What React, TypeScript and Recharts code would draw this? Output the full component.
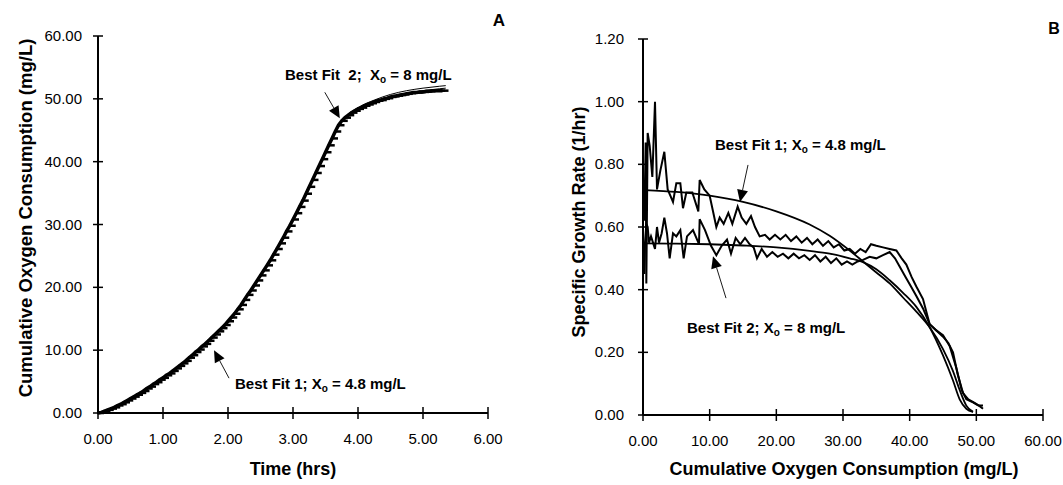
import React from 'react';
import { ComposedChart, Line, XAxis, YAxis, ReferenceDot, Customized } from 'recharts';

const FONT = "'Liberation Sans', Arial, Helvetica, sans-serif";

// ---------- Panel A data ----------
const timeHrs = [
  0.00, 0.05, 0.10, 0.15, 0.20, 0.25, 0.30, 0.35, 0.40, 0.45, 0.50, 0.55, 0.60, 0.65, 0.70, 0.75, 0.80, 0.85, 0.90, 0.95,
  1.00, 1.05, 1.10, 1.15, 1.20, 1.25, 1.30, 1.35, 1.40, 1.45, 1.50, 1.55, 1.60, 1.65, 1.70, 1.75, 1.80, 1.85, 1.90, 1.95,
  2.00, 2.05, 2.10, 2.15, 2.20, 2.25, 2.30, 2.35, 2.40, 2.45, 2.50, 2.55, 2.60, 2.65, 2.70, 2.75, 2.80, 2.85, 2.90, 2.95,
  3.00, 3.05, 3.10, 3.15, 3.20, 3.25, 3.30, 3.35, 3.40, 3.45, 3.50, 3.55, 3.60, 3.65, 3.70, 3.75, 3.80, 3.85, 3.90, 3.95,
  4.00, 4.05, 4.10, 4.15, 4.20, 4.25, 4.30, 4.35, 4.40, 4.45, 4.50, 4.55, 4.60, 4.65, 4.70, 4.75, 4.80, 4.85, 4.90, 4.95,
  5.00, 5.05, 5.10, 5.15, 5.20, 5.25, 5.30,
];
const o2Measured = [
  0.0, 0.1, 0.3, 0.5, 0.7, 0.9, 1.2, 1.4, 1.7, 2.0, 2.3, 2.6, 2.9, 3.2, 3.5, 3.9, 4.2, 4.6, 4.9, 5.3,
  5.6, 6.0, 6.3, 6.7, 7.1, 7.5, 7.9, 8.3, 8.8, 9.2, 9.7, 10.1, 10.6, 11.0, 11.5, 12.0, 12.5, 13.0, 13.5, 14.0,
  14.6, 15.2, 15.8, 16.5, 17.2, 18.0, 18.8, 19.5, 20.3, 21.1, 21.9, 22.7, 23.5, 24.3, 25.2, 26.1, 27.0, 27.9, 28.9, 29.8,
  30.8, 31.8, 32.8, 33.8, 34.9, 36.0, 37.1, 38.2, 39.3, 40.4, 41.5, 42.6, 43.7, 44.8, 45.8, 46.5, 47.0, 47.4, 47.8, 48.1,
  48.4, 48.6, 48.9, 49.1, 49.3, 49.5, 49.7, 49.8, 50.0, 50.1, 50.3, 50.4, 50.5, 50.6, 50.7, 50.8, 50.9, 51.0, 51.0, 51.1,
  51.1, 51.2, 51.2, 51.3, 51.3, 51.3, 51.3,
];
const fitTime = [0, 0.25, 0.5, 0.75, 1.0, 1.25, 1.5, 1.75, 2.0, 2.25, 2.5, 2.75, 3.0, 3.25, 3.5, 3.75, 4.0, 4.25, 4.5, 4.75, 5.0, 5.25, 5.35];
const fit1O2 = [0, 1.0, 2.4, 3.9, 5.6, 7.5, 9.7, 12.0, 14.6, 18.0, 21.9, 26.1, 30.8, 36.0, 41.5, 46.3, 48.4, 49.5, 50.3, 50.9, 51.3, 51.6, 51.7];
const fit2O2 = [0, 0.9, 2.3, 3.8, 5.5, 7.4, 9.6, 12.0, 14.7, 18.1, 22.0, 26.3, 31.0, 36.2, 41.6, 46.5, 48.6, 49.8, 50.7, 51.3, 51.7, 52.0, 52.1];
const timeTicks = [0, 1, 2, 3, 4, 5, 6];
const o2Ticks = [0, 10, 20, 30, 40, 50, 60];

// ---------- Panel B data ----------
const upperX = [0.2, 0.4, 0.5, 0.7, 1.0, 1.4, 1.8, 2.1, 2.6, 3.2, 3.7, 4.1, 4.5, 5.0, 5.6, 6.0, 6.5, 7.4, 8.3, 8.5,
  9.2, 10.0, 10.5, 11.0, 11.5, 12.1, 12.8, 13.4, 14.2, 14.8, 15.5, 16.2, 16.8, 17.5, 18.3, 19.0, 19.8, 20.6, 21.4, 22.2,
  23.0, 23.8, 24.6, 25.4, 26.2, 27.0, 27.8, 28.6, 29.4, 30.2, 31.0, 31.8, 32.6, 33.4, 34.2, 35.0, 36.0, 37.0, 38.0, 38.8,
  39.5, 40.3, 41.0, 42.0, 43.0, 44.0, 45.0, 46.0, 47.0, 47.8, 48.5, 49.5, 50.3, 51.0];
const upperRate = [0.62, 0.87, 0.42, 0.90, 0.86, 0.76, 1.00, 0.72, 0.78, 0.84, 0.72, 0.70, 0.68, 0.74, 0.74, 0.66, 0.71, 0.71, 0.65, 0.75,
  0.72, 0.70, 0.65, 0.60, 0.63, 0.61, 0.645, 0.61, 0.665, 0.63, 0.61, 0.635, 0.60, 0.57, 0.575, 0.56, 0.575, 0.56, 0.575, 0.555,
  0.57, 0.55, 0.565, 0.545, 0.56, 0.54, 0.555, 0.535, 0.545, 0.525, 0.53, 0.515, 0.53, 0.52, 0.545, 0.54, 0.535, 0.53, 0.525, 0.50,
  0.48, 0.44, 0.41, 0.37, 0.29, 0.27, 0.255, 0.22, 0.15, 0.08, 0.05, 0.04, 0.03, 0.03];
const lowerX = [0.2, 0.3, 0.5, 0.7, 0.9, 1.2, 1.5, 1.8, 2.1, 2.4, 2.8, 3.2, 3.6, 4.0, 4.5, 5.0, 5.6, 6.1, 6.6, 7.5,
  8.4, 8.5, 9.3, 10.2, 11.0, 11.8, 12.6, 13.2, 13.9, 14.6, 15.3, 16.0, 16.6, 17.1, 17.8, 18.6, 19.4, 20.2, 21.0, 21.8,
  22.6, 23.4, 24.2, 25.0, 25.8, 26.6, 27.4, 28.2, 29.0, 29.8, 30.6, 31.4, 32.2, 33.0, 34.0, 35.0, 36.0, 37.0, 37.8, 38.6,
  39.4, 40.2, 41.0, 42.0, 43.0, 44.0, 45.0, 45.8, 46.5, 47.2, 48.0, 48.8, 49.6, 50.4, 51.0];
const lowerRate = [0.45, 0.55, 0.61, 0.60, 0.55, 0.57, 0.55, 0.53, 0.60, 0.55, 0.58, 0.63, 0.58, 0.50, 0.58, 0.57, 0.59, 0.50, 0.57, 0.59,
  0.545, 0.625, 0.59, 0.54, 0.51, 0.54, 0.56, 0.515, 0.565, 0.545, 0.565, 0.545, 0.535, 0.50, 0.53, 0.505, 0.52, 0.505, 0.515, 0.50,
  0.515, 0.50, 0.51, 0.495, 0.51, 0.49, 0.505, 0.485, 0.50, 0.48, 0.49, 0.48, 0.49, 0.495, 0.505, 0.50, 0.51, 0.52, 0.50, 0.47,
  0.44, 0.41, 0.38, 0.34, 0.29, 0.27, 0.25, 0.23, 0.20, 0.13, 0.07, 0.05, 0.04, 0.03, 0.02];
const fitO2X = [0.3, 5, 10, 15, 20, 25, 28, 31, 33, 35, 37, 39, 41, 43, 45, 46.5, 47.5, 48.5, 49.5];
const fit1Rate = [0.718, 0.712, 0.700, 0.680, 0.650, 0.608, 0.572, 0.525, 0.490, 0.455, 0.420, 0.375, 0.330, 0.280, 0.210, 0.140, 0.080, 0.030, 0.010];
const fit2Rate = [0.548, 0.547, 0.545, 0.541, 0.535, 0.524, 0.515, 0.500, 0.488, 0.465, 0.430, 0.390, 0.345, 0.280, 0.190, 0.110, 0.050, 0.020, 0.010];
const o2TicksB = [0, 10, 20, 30, 40, 50, 60];
const rateTicks = [0, 0.2, 0.4, 0.6, 0.8, 1.0, 1.2];

const zip = (xs: number[], ys: number[]) => xs.map((x, i) => ({ x, y: ys[i] }));

const measuredData = zip(timeHrs, o2Measured);
const fit1Data = zip(fitTime, fit1O2);
const fit2Data = zip(fitTime, fit2O2);
const upperData = zip(upperX, upperRate);
const lowerData = zip(lowerX, lowerRate);
const fit1BData = zip(fitO2X, fit1Rate);
const fit2BData = zip(fitO2X, fit2Rate);

// ---------- helpers ----------
const YTick = (props: any) => {
  const { x, y, payload, gap } = props;
  return (
    <g>
      <line x1={x - 5} x2={x + 5} y1={y} y2={y} stroke="#000" strokeWidth={1.5} />
      <text x={x - gap} y={y + 5} textAnchor="end" fontSize={15} fontFamily={FONT} fill="#000">
        {Number(payload.value).toFixed(2)}
      </text>
    </g>
  );
};
const XTick = (props: any) => {
  const { x, y, payload, dyText } = props;
  return (
    <g>
      <line x1={x} x2={x} y1={y - 6} y2={y + 6} stroke="#000" strokeWidth={1.5} />
      <text x={x} y={y + dyText} textAnchor="middle" fontSize={15} fontFamily={FONT} fill="#000">
        {Number(payload.value).toFixed(2)}
      </text>
    </g>
  );
};

const DashDot = (props: any) => {
  const { cx, cy, index } = props;
  if (cx == null || cy == null) return <g key={index} />;
  return <line key={index} x1={cx - 1} x2={cx + 6} y1={cy} y2={cy} stroke="#000" strokeWidth={2.5} />;
};

const makeArrow = (dx: number, dy: number) => (props: any) => {
  const { cx, cy } = props;
  const len = Math.sqrt(dx * dx + dy * dy);
  const ux = -dx / len;
  const uy = -dy / len; // direction tail->tip
  const hl = 12;
  const hw = 5.5;
  const bx = cx - ux * hl;
  const by = cy - uy * hl;
  const px = -uy;
  const py = ux;
  return (
    <g>
      <line x1={cx + dx} y1={cy + dy} x2={bx} y2={by} stroke="#000" strokeWidth={0.9} />
      <polygon
        points={`${cx},${cy} ${bx + px * hw},${by + py * hw} ${bx - px * hw},${by - py * hw}`}
        fill="#000"
      />
    </g>
  );
};

const makeNote = (main: string, tail: string) => (props: any) => {
  const { cx, cy } = props;
  return (
    <text x={cx} y={cy} fontSize={15} fontWeight="bold" fontFamily={FONT} fill="#000" style={{ whiteSpace: 'pre' }}>
      {main}
      <tspan fontSize={10} dy={3}>o</tspan>
      <tspan dy={-3}>{tail}</tspan>
    </text>
  );
};

const titleStyle = { fontSize: 18, fontWeight: 'bold' as const, fontFamily: FONT, fill: '#000' };

const LeftTitles = () => (
  <g>
    <text x={293} y={475} textAnchor="middle" {...titleStyle}>Time (hrs)</text>
    <text x={32} y={218} textAnchor="middle" transform="rotate(-90, 32, 218)" {...titleStyle} fontSize={18.5}>
      Cumulative Oxygen Consumption (mg/L)
    </text>
    <text x={499} y={26} textAnchor="middle" fontSize={17} fontWeight="bold" fontFamily={FONT}>A</text>
  </g>
);
const RightTitles = () => (
  <g>
    <text x={314} y={475} textAnchor="middle" {...titleStyle}>Cumulative Oxygen Consumption (mg/L)</text>
    <text x={55} y={222} textAnchor="middle" transform="rotate(-90, 55, 222)" {...titleStyle}>
      Specific Growth Rate (1/hr)
    </text>
    <text x={524} y={34} textAnchor="middle" fontSize={16} fontWeight="bold" fontFamily={FONT}>B</text>
  </g>
);

const axisLine = { stroke: '#000', strokeWidth: 2 };

const LeftChart = () => (
  <ComposedChart width={530} height={485} margin={{ top: 36, right: 42, bottom: 0, left: 0 }}>
    <XAxis
      type="number"
      dataKey="x"
      domain={[0, 6]}
      ticks={timeTicks}
      interval={0}
      height={72}
      axisLine={axisLine}
      tickLine={false}
      tickSize={0}
      tickMargin={0}
      tick={(p: any) => <XTick {...p} dyText={31} />}
    />
    <YAxis
      type="number"
      dataKey="y"
      domain={[0, 60]}
      ticks={o2Ticks}
      interval={0}
      width={98}
      axisLine={axisLine}
      tickLine={false}
      tickSize={0}
      tickMargin={0}
      tick={(p: any) => <YTick {...p} gap={16} />}
    />
    <Line data={measuredData} dataKey="y" stroke="#000" strokeWidth={3.5} dot={DashDot} activeDot={false} isAnimationActive={false} />
    <Line data={fit1Data} dataKey="y" type="monotone" stroke="#000" strokeWidth={1} dot={false} activeDot={false} isAnimationActive={false} />
    <Line data={fit2Data} dataKey="y" type="monotone" stroke="#000" strokeWidth={1} dot={false} activeDot={false} isAnimationActive={false} />
    <ReferenceDot x={3.72} y={46.9} r={0} shape={makeArrow(-15, -26)} />
    <ReferenceDot x={1.785} y={10.0} r={0} shape={makeArrow(15, 28)} />
    <ReferenceDot x={2.877} y={53.0} r={0} shape={makeNote('Best Fit  2;  X', ' = 8 mg/L')} />
    <ReferenceDot x={2.108} y={3.8} r={0} shape={makeNote('Best Fit 1; X', ' = 4.8 mg/L')} />
    <Customized component={LeftTitles} />
  </ComposedChart>
);

const RightChart = () => (
  <ComposedChart width={533} height={485} margin={{ top: 39, right: 20, bottom: 0, left: 0 }}>
    <XAxis
      type="number"
      dataKey="x"
      domain={[0, 60]}
      ticks={o2TicksB}
      interval={0}
      height={70}
      axisLine={axisLine}
      tickLine={false}
      tickSize={0}
      tickMargin={0}
      tick={(p: any) => <XTick {...p} dyText={31} />}
    />
    <YAxis
      type="number"
      dataKey="y"
      domain={[0, 1.2]}
      ticks={rateTicks}
      interval={0}
      width={113}
      axisLine={axisLine}
      tickLine={false}
      tickSize={0}
      tickMargin={0}
      tick={(p: any) => <YTick {...p} gap={19} />}
    />
    <Line data={upperData} dataKey="y" stroke="#000" strokeWidth={2} dot={false} activeDot={false} isAnimationActive={false} />
    <Line data={lowerData} dataKey="y" stroke="#000" strokeWidth={2} dot={false} activeDot={false} isAnimationActive={false} />
    <Line data={fit1BData} dataKey="y" type="monotone" stroke="#000" strokeWidth={1.8} dot={false} activeDot={false} isAnimationActive={false} />
    <Line data={fit2BData} dataKey="y" type="monotone" stroke="#000" strokeWidth={1.8} dot={false} activeDot={false} isAnimationActive={false} />
    <ReferenceDot x={14.55} y={0.68} r={0} shape={makeArrow(8, -37)} />
    <ReferenceDot x={10.5} y={0.507} r={0} shape={makeArrow(13, 42)} />
    <ReferenceDot x={10.8} y={0.846} r={0} shape={makeNote('Best Fit 1; X', ' = 4.8 mg/L')} />
    <ReferenceDot x={6.6} y={0.262} r={0} shape={makeNote('Best Fit 2; X', ' = 8 mg/L')} />
    <Customized component={RightTitles} />
  </ComposedChart>
);

export default function App() {
  return (
    <div style={{ position: 'absolute', left: 0, top: 0, width: 1063, height: 485, background: '#fff' }}>
      <div style={{ position: 'absolute', left: 0, top: 0 }}>
        <LeftChart />
      </div>
      <div style={{ position: 'absolute', left: 530, top: 0 }}>
        <RightChart />
      </div>
    </div>
  );
}
